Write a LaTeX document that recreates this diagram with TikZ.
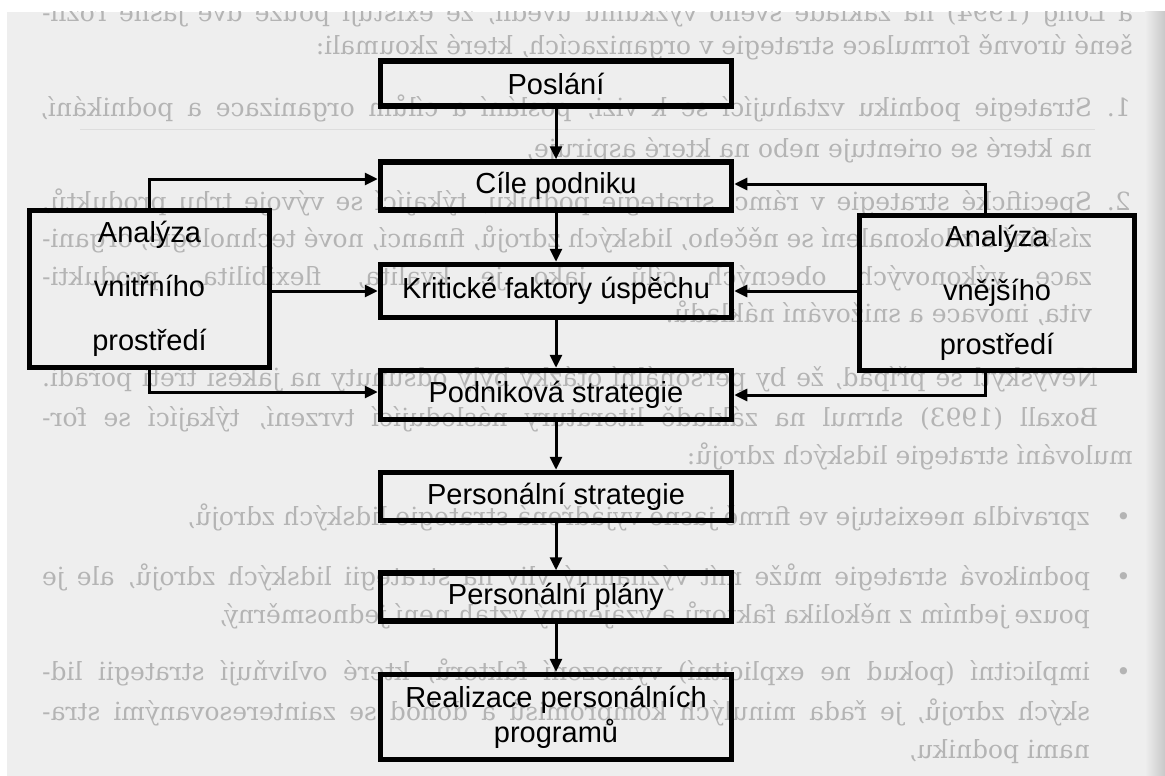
\documentclass[tikz,border=0pt]{standalone}
\usepackage{fontspec}
\setmainfont{Liberation Serif}
\newfontfamily\boxfont{Liberation Sans}
\newfontfamily\bleedfont{DejaVu Serif}
\usepackage{graphicx}
\usetikzlibrary{arrows.meta}
\definecolor{paper}{HTML}{EEEEEE}
\definecolor{bleed}{HTML}{B4B4B4}
\definecolor{edgeshade}{HTML}{C8C8C8}
\tikzset{
  mbox/.style={draw=black, line width=5.5pt, minimum width=351pt, inner sep=0pt, align=center,
    font=\boxfont\fontsize{29}{35}\selectfont},
  sbox/.style={draw=black, line width=5.5pt, inner sep=0pt, align=center,
    font=\boxfont\fontsize{29}{54}\selectfont},
  conn/.style={line width=3pt, -{Triangle[length=13pt,width=12pt]}},
  bg/.style={text=bleed, inner sep=0pt, font=\bleedfont\fontsize{25}{25}\selectfont},
  bgfull/.style={bg, anchor=base west},
  bgstart/.style={bg, anchor=base east},
}
\begin{document}
\begin{tikzpicture}[x=1pt,y=-1pt]
\useasboundingbox (0,0) rectangle (1165,776);
\fill[white] (0,0) rectangle (1165,776);
\fill[paper] (7,12) rectangle (1165,776);
\shade[left color=paper, right color=edgeshade] (1145,12) rectangle (1165,776);

% mirrored bleed-through text of the reverse page
\begin{scope}
\clip (7,12) rectangle (1165,776);
\node[bgfull] (t1) at (42,22) {\reflectbox{\makebox[1091pt][s]{a Long (1994) na základě svého výzkumu uvedli, že existují pouze dvě jasně rozli-}}};
\node[bgstart] (t2) at (1133,55) {\reflectbox{šené úrovně formulace strategie v organizacích, které zkoumali:}};
\node[bgstart] (n1) at (1131,117) {\reflectbox{1.}};
\node[bgfull] (t3) at (40,117) {\reflectbox{\makebox[1052pt][s]{Strategie podniku vztahující se k vizi, poslání a cílům organizace a podnikání,}}};
\draw[bleed!45, line width=0.7pt] (80,129) -- (1095,129);
\node[bgstart] (t4) at (1092,157) {\reflectbox{na které se orientuje nebo na které aspiruje,}};
\node[bgstart] (n2) at (1131,210) {\reflectbox{2.}};
\node[bgfull] (t5) at (42,210) {\reflectbox{\makebox[1050pt][s]{Specifické strategie v rámci strategie podniku, týkající se vývoje trhu produktů,}}};
\node[bgfull] (t6) at (42,247) {\reflectbox{\makebox[1050pt][s]{získání a zdokonalení se něčeho, lidských zdrojů, financí, nové technologie, organi-}}};
\node[bgfull] (t7) at (42,285) {\reflectbox{\makebox[1050pt][s]{zace výkonových obecných cílů, jako je kvalita, flexibilita, produkti-}}};
\node[bgstart] (t8) at (1092,322) {\reflectbox{vita, inovace a snižování nákladů.}};
\node[bgfull] (t9) at (42,386) {\reflectbox{\makebox[1056pt][s]{Nevyskytl se případ, že by personální otázky byly odsunuty na jakési třetí pořadí.}}};
\node[bgfull] (t10) at (42,426) {\reflectbox{\makebox[1056pt][s]{Boxall (1993) shrnul na základě literatury následující tvrzení, týkající se for-}}};
\node[bgstart] (t11) at (1133,464) {\reflectbox{mulování strategie lidských zdrojů:}};
\node[bgstart] (u1) at (1131,525) {\reflectbox{\textbullet}};
\node[bgstart] (t12) at (1090,525) {\reflectbox{zpravidla neexistuje ve firmě jasně vyjádřená strategie lidských zdrojů,}};
\node[bgstart] (u2) at (1131,585) {\reflectbox{\textbullet}};
\node[bgfull] (t13) at (42,585) {\reflectbox{\makebox[1048pt][s]{podniková strategie může mít významný vliv na strategii lidských zdrojů, ale je}}};
\node[bgstart] (t14) at (1090,623) {\reflectbox{pouze jedním z několika faktorů a vzájemný vztah není jednosměrný,}};
\node[bgstart] (u3) at (1131,680) {\reflectbox{\textbullet}};
\node[bgfull] (t15) at (42,680) {\reflectbox{\makebox[1048pt][s]{implicitní (pokud ne explicitní) vymezení faktorů, které ovlivňují strategii lid-}}};
\node[bgfull] (t16) at (42,720) {\reflectbox{\makebox[1048pt][s]{ských zdrojů, je řada minulých kompromisů a dohod se zainteresovanými stra-}}};
\node[bgstart] (t17) at (1090,758) {\reflectbox{nami podniku,}};
\end{scope}

% main column
\node[mbox, minimum height=45pt] (posl) at (556,83.5) {Poslání};
\node[mbox, minimum height=48pt] (cile) at (556,186) {Cíle podniku};
\node[mbox, minimum height=53pt] (krit) at (556,291) {Kritické faktory úspěchu};
\node[mbox, minimum height=49pt] (pods) at (556,395) {Podniková strategie};
\node[mbox, minimum height=48pt] (pers) at (556,496.5) {Personální strategie};
\node[mbox, minimum height=48pt] (plan) at (556,597) {Personální plány};
\node[mbox, minimum height=85pt] (real) at (556,717) {Realizace personálních\\programů};

% side boxes
\node[sbox, minimum width=240pt, minimum height=157pt] (vnit) at (149.5,289) {Analýza\\vnitřního\\prostředí};
\node[sbox, minimum width=275pt, minimum height=155pt] (vnej) at (997,293) {Analýza\\vnějšího\\prostředí};

% vertical chain
\draw[conn] (posl) -- (cile);
\draw[conn] (cile) -- (krit);
\draw[conn] (krit) -- (pods);
\draw[conn] (pods) -- (pers);
\draw[conn] (pers) -- (plan);
\draw[conn] (plan) -- (real);

% inputs from the analyses
\draw[conn] (vnit.north) |- ([yshift=7pt]cile.west);
\draw[conn] (vnit.east |- krit.west) -- (krit.west);
\draw[conn] (vnit.south) |- ([yshift=3pt]pods.west);
\draw[conn] ([xshift=-12pt]vnej.north) |- ([yshift=2pt]cile.east);
\draw[conn] (vnej.west |- krit.east) -- (krit.east);
\draw[conn] ([xshift=-12pt]vnej.south) |- (pods.east);
\end{tikzpicture}
\end{document}
